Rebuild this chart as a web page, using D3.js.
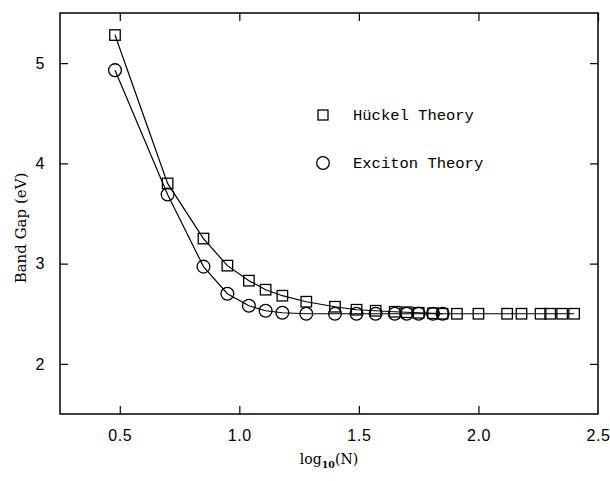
<!DOCTYPE html>
<html><head><meta charset="utf-8">
<script src="https://cdn.jsdelivr.net/npm/d3@7/dist/d3.min.js"></script>
<style>body{margin:0;background:#fff}</style>
</head><body><svg id="c" width="610" height="481"></svg>
<script>
const huckelX = [0.48, 0.70, 0.85, 0.95, 1.04, 1.11, 1.18, 1.28, 1.40, 1.49, 1.57, 1.65, 1.70, 1.75, 1.81, 1.85, 1.91, 2.00, 2.12, 2.18, 2.26, 2.30, 2.35, 2.40];
const huckelY = [5.28, 3.80, 3.25, 2.98, 2.83, 2.74, 2.68, 2.62, 2.57, 2.54, 2.53, 2.52, 2.515, 2.51, 2.505, 2.50, 2.50, 2.50, 2.50, 2.50, 2.50, 2.50, 2.50, 2.50];
const excitonX = [0.48, 0.70, 0.85, 0.95, 1.04, 1.11, 1.18, 1.28, 1.40, 1.49, 1.57, 1.65, 1.70, 1.75, 1.81, 1.85];
const excitonY = [4.93, 3.69, 2.97, 2.70, 2.58, 2.53, 2.51, 2.50, 2.50, 2.50, 2.50, 2.50, 2.50, 2.50, 2.50, 2.50];
const xTicks = [0.5, 1.0, 1.5, 2.0, 2.5];
const yTicks = [2, 3, 4, 5];
const legendLabels = ["Hückel Theory", "Exciton Theory"];

const svg = d3.select("#c");
const L = 60, R = 598, T = 13, B = 414;
const x = d3.scaleLinear().domain([0.25, 2.5]).range([L, R]);
const y = d3.scaleLinear().domain([1.5, 5.5]).range([B, T]);
const tk = 8;

// axes (ticks inward on all four sides)
const fmtX = d3.format(".1f");
const axB = svg.append("g").attr("transform", `translate(0,${B})`)
  .call(d3.axisBottom(x).tickValues(xTicks).tickSize(-tk).tickPadding(tk + 8).tickFormat(fmtX));
const axT = svg.append("g").attr("transform", `translate(0,${T})`)
  .call(d3.axisTop(x).tickValues(xTicks).tickSize(-tk).tickFormat(""));
const axL = svg.append("g").attr("transform", `translate(${L},0)`)
  .call(d3.axisLeft(y).tickValues(yTicks).tickSize(-tk).tickPadding(tk + 7).tickFormat(d3.format("d")));
const axR = svg.append("g").attr("transform", `translate(${R},0)`)
  .call(d3.axisRight(y).tickValues(yTicks).tickSize(-tk).tickFormat(""));
[axB, axT, axL, axR].forEach(a => {
  a.select(".domain").remove();
  a.selectAll("line").attr("stroke", "#000").attr("stroke-width", 1.2);
  a.selectAll("text").attr("fill", "#000").style("font-family", "'Liberation Sans', Arial, sans-serif")
    .style("font-size", "16px").style("letter-spacing", "0.6px");
});
axB.selectAll(".tick").filter(d => d === 2.5).select("line").remove();

svg.append("rect").attr("x", L).attr("y", T).attr("width", R - L).attr("height", B - T)
  .attr("fill", "none").attr("stroke", "#000").attr("stroke-width", 1.5);

// lines
const line = d3.line().x(d => x(d[0])).y(d => y(d[1]));
const hData = huckelX.map((v, i) => [v, huckelY[i]]);
const eData = excitonX.map((v, i) => [v, excitonY[i]]);
svg.append("path").datum(hData).attr("d", line).attr("fill", "none").attr("stroke", "#000").attr("stroke-width", 1.2);
svg.append("path").datum(eData).attr("d", line).attr("fill", "none").attr("stroke", "#000").attr("stroke-width", 1.2);

const sq = 10.5, cr = 6.4;
svg.append("g").selectAll("rect").data(hData).join("rect")
  .attr("x", d => x(d[0]) - sq / 2).attr("y", d => y(d[1]) - sq / 2)
  .attr("width", sq).attr("height", sq).attr("fill", "none").attr("stroke", "#000").attr("stroke-width", 1.3);
svg.append("g").selectAll("circle").data(eData).join("circle")
  .attr("cx", d => x(d[0])).attr("cy", d => y(d[1])).attr("r", cr)
  .attr("fill", "none").attr("stroke", "#000").attr("stroke-width", 1.3);

// legend
const lg = svg.append("g");
lg.append("rect").attr("x", 323 - 5).attr("y", 115 - 5).attr("width", 10).attr("height", 10)
  .attr("fill", "none").attr("stroke", "#000").attr("stroke-width", 1.3);
lg.append("circle").attr("cx", 323).attr("cy", 163).attr("r", 6.3)
  .attr("fill", "none").attr("stroke", "#000").attr("stroke-width", 1.3);
lg.selectAll("text").data(legendLabels).join("text")
  .attr("x", 353).attr("y", (d, i) => [115, 163][i]).attr("dy", "0.35em")
  .style("font-family", "'Liberation Mono', 'Courier New', monospace").style("font-size", "15.5px")
  .text(d => d);

// axis titles
svg.append("text").attr("transform", `translate(21,228) rotate(-90)`)
  .attr("text-anchor", "middle").attr("dy", "0.35em")
  .style("font-family", "'DejaVu Serif', serif").style("font-size", "15px")
  .text("Band Gap (eV)");
const xt = svg.append("text").attr("x", (L + R) / 2).attr("y", 464).attr("text-anchor", "middle")
  .style("font-family", "'DejaVu Serif', serif").style("font-size", "14px");
xt.append("tspan").text("log");
xt.append("tspan").attr("dy", 4).style("font-size", "9.5px").style("font-weight", "bold").text("10");
xt.append("tspan").attr("dy", -4).text("(N)");
</script></body></html>
